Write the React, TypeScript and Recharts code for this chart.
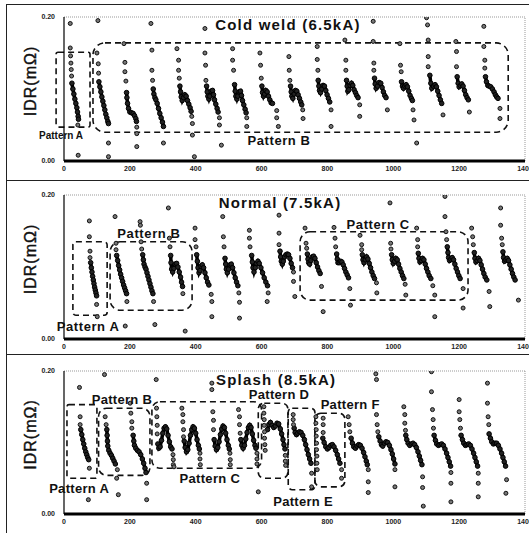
import React from 'react';
import { ComposedChart, Line, Scatter, XAxis, YAxis, ReferenceLine, ReferenceArea, ReferenceDot, Label } from 'recharts';

type Pt = [number, number];

const X_TICKS = [0, 200, 400, 600, 800, 1000, 1200, 1400];
const Y_TICKS = [0, 0.2];

// ---- Cold weld (6.5kA) ----
const coldStrokes: Pt[][] = [
  [[24, .108], [27, .100], [30, .093], [33, .086], [36, .080], [39, .074], [41, .068], [43, .062], [44, .058]],
  [[106, .110], [109, .103], [112, .096], [115, .089], [118, .083], [121, .077], [124, .071], [127, .065], [130, .060], [133, .055], [135, .052]],
  [[190, .095], [191, .088], [193, .080], [196, .073], [200, .068], [205, .067], [210, .066], [214, .063], [218, .059], [220, .055]],
  [[271, .100], [273, .093], [276, .088], [279, .085], [283, .080], [287, .073], [291, .066], [295, .060], [299, .054], [302, .048]],
  [[352, .104], [354, .096], [356, .089], [359, .084], [363, .088], [367, .092], [371, .090], [375, .084], [379, .079], [383, .074], [386, .069]],
  [[433, .104], [435, .096], [437, .090], [440, .086], [443, .090], [447, .097], [451, .098], [454, .092], [457, .085], [461, .079], [465, .073], [468, .068]],
  [[518, .106], [520, .097], [522, .090], [525, .086], [528, .090], [532, .096], [536, .097], [539, .091], [542, .084], [546, .078], [550, .072], [553, .067]],
  [[601, .104], [603, .095], [606, .090], [609, .093], [613, .098], [617, .096], [621, .090], [625, .085], [629, .081], [633, .080]],
  [[688, .104], [690, .096], [692, .090], [695, .087], [699, .093], [703, .098], [707, .097], [711, .092], [715, .087], [719, .082], [722, .078]],
  [[772, .112], [774, .104], [776, .098], [779, .095], [783, .100], [787, .105], [791, .104], [795, .098], [799, .092], [803, .087], [807, .082]],
  [[858, .112], [860, .104], [862, .097], [865, .099], [869, .105], [873, .108], [877, .105], [881, .099], [885, .095], [889, .091], [893, .088]],
  [[943, .115], [945, .107], [948, .101], [952, .104], [957, .109], [962, .108], [966, .102], [970, .096], [974, .091], [978, .088]],
  [[1025, .110], [1028, .104], [1031, .101], [1035, .104], [1039, .106], [1043, .103], [1047, .097], [1051, .091], [1055, .087], [1058, .084]],
  [[1111, .119], [1114, .108], [1117, .101], [1122, .104], [1127, .106], [1131, .103], [1135, .097], [1139, .091], [1143, .085], [1147, .080]],
  [[1194, .117], [1197, .108], [1200, .103], [1204, .105], [1208, .107], [1212, .104], [1216, .098], [1220, .092], [1224, .088], [1228, .085]],
  [[1280, .117], [1283, .110], [1287, .105], [1291, .104], [1296, .103], [1301, .100], [1306, .096], [1310, .092], [1314, .089], [1318, .087]],
];
const coldDots: Pt[] = [
  [19, .191], [19, .157], [20, .146], [21, .136], [22, .127], [23, .118], [42, .050], [43, .008],
  [103, .195], [100, .150], [104, .135], [105, .122], [135, .025], [135, .006],
  [182, .163], [185, .137], [185, .124], [188, .111], [221, .047], [221, .038], [221, .020],
  [264, .191], [267, .154], [267, .126], [269, .112], [302, .025],
  [343, .156], [348, .140], [348, .126], [350, .115], [388, .062], [390, .052], [390, .036], [396, .006],
  [428, .184], [428, .150], [430, .133], [431, .112], [472, .060], [472, .050], [478, .022],
  [512, .156], [512, .140], [515, .126], [555, .060], [555, .048],
  [595, .150], [597, .133], [599, .115], [646, .070], [646, .060], [651, .048],
  [683, .145], [684, .126], [686, .112], [725, .071], [726, .059],
  [769, .159], [769, .141], [771, .126], [811, .071], [811, .048],
  [853, .168], [856, .140], [856, .126], [898, .078], [898, .062],
  [939, .194], [939, .166], [941, .136], [941, .126], [982, .071],
  [1020, .163], [1022, .133], [1024, .124], [1060, .071], [1063, .057], [1071, .025],
  [1101, .199], [1104, .189], [1106, .168], [1106, .145], [1106, .131], [1151, .064],
  [1190, .166], [1192, .152], [1192, .131], [1231, .068],
  [1275, .187], [1275, .159], [1278, .140], [1278, .129], [1324, .073], [1324, .059],
];

// ---- Normal (7.5kA) ----
const normalStrokes: Pt[][] = [
  [[81, .106], [83, .099], [85, .093], [87, .087], [89, .082], [91, .077], [93, .072], [95, .068], [97, .064], [99, .060]],
  [[160, .116], [163, .109], [166, .102], [169, .096], [172, .090], [175, .085], [178, .080], [181, .075], [184, .071], [187, .067], [190, .063]],
  [[239, .117], [241, .110], [243, .104], [246, .100], [249, .097], [252, .092], [255, .087], [258, .082], [261, .077], [264, .072], [267, .067], [270, .063]],
  [[324, .116], [325, .106], [327, .097], [330, .093], [334, .098], [338, .104], [342, .105], [346, .100], [350, .093], [354, .086], [357, .079], [360, .073]],
  [[403, .117], [405, .108], [407, .099], [410, .092], [413, .095], [416, .101], [420, .103], [424, .099], [428, .092], [432, .085], [436, .079], [440, .075]],
  [[489, .112], [491, .104], [493, .097], [496, .092], [500, .097], [504, .103], [508, .104], [512, .099], [516, .092], [520, .085], [524, .079], [528, .074]],
  [[570, .116], [572, .107], [574, .099], [577, .093], [581, .099], [585, .105], [589, .108], [593, .105], [598, .099], [603, .092], [608, .085], [613, .079], [618, .074]],
  [[656, .122], [658, .114], [660, .108], [663, .104], [666, .108], [670, .114], [674, .117], [678, .118], [682, .117], [686, .112], [690, .105], [694, .099]],
  [[739, .118], [741, .111], [743, .106], [746, .104], [750, .109], [754, .114], [758, .115], [762, .112], [766, .106], [770, .100], [774, .095], [778, .091]],
  [[828, .118], [830, .111], [832, .106], [836, .106], [840, .108], [844, .107], [848, .103], [852, .098], [856, .093], [860, .089], [864, .085]],
  [[906, .117], [908, .110], [911, .106], [915, .110], [919, .114], [923, .111], [927, .105], [931, .099], [935, .093], [939, .088], [943, .084]],
  [[995, .117], [997, .110], [1000, .105], [1004, .108], [1008, .112], [1012, .110], [1016, .104], [1020, .098], [1024, .093], [1028, .088], [1032, .084]],
  [[1076, .119], [1078, .112], [1081, .107], [1085, .109], [1089, .112], [1093, .110], [1097, .104], [1101, .098], [1105, .093], [1109, .088], [1114, .084]],
  [[1164, .128], [1166, .120], [1168, .113], [1171, .109], [1175, .111], [1179, .113], [1183, .110], [1187, .104], [1191, .098], [1195, .093], [1199, .088], [1203, .084]],
  [[1246, .120], [1248, .112], [1251, .107], [1255, .109], [1259, .112], [1263, .109], [1267, .103], [1271, .097], [1275, .091], [1279, .086], [1284, .082]],
  [[1333, .121], [1335, .113], [1338, .108], [1342, .110], [1346, .112], [1350, .109], [1354, .103], [1358, .097], [1362, .091], [1366, .086], [1370, .082]],
];
const normalDots: Pt[] = [
  [77, .164], [77, .142], [79, .122], [79, .113], [99, .048], [101, .031],
  [155, .170], [158, .133], [158, .124], [191, .052], [186, .018],
  [231, .163], [232, .158], [234, .135], [236, .125], [272, .052], [276, .020],
  [317, .182], [320, .140], [322, .128], [361, .063], [368, .011],
  [398, .154], [398, .138], [401, .128], [447, .062], [449, .052], [449, .031],
  [482, .170], [484, .142], [486, .128], [531, .064], [533, .051], [533, .029],
  [563, .151], [563, .140], [565, .128], [620, .064], [617, .052],
  [653, .172], [653, .147], [653, .131], [697, .093], [697, .080], [701, .059],
  [732, .154], [735, .133], [737, .126], [782, .073], [787, .038],
  [820, .155], [823, .140], [825, .128], [868, .070], [870, .047],
  [899, .144], [904, .131], [904, .124], [949, .078], [950, .064],
  [990, .189], [992, .133], [993, .125], [1036, .076], [1038, .061],
  [1071, .154], [1074, .138], [1074, .128], [1120, .074], [1126, .061], [1126, .031],
  [1157, .198], [1157, .170], [1160, .149], [1162, .138], [1212, .070], [1212, .043],
  [1238, .154], [1241, .142], [1243, .131], [1291, .066], [1293, .045],
  [1326, .182], [1326, .158], [1329, .140], [1331, .131], [1380, .054],
];

// ---- Splash (8.5kA) ----
const splashStrokes: Pt[][] = [
  [[51, .118], [54, .111], [57, .104], [60, .098], [63, .092], [66, .087], [69, .083], [72, .079], [75, .076]],
  [[130, .118], [131, .110], [132, .102], [133, .095], [136, .089], [140, .085], [144, .082], [148, .078], [152, .074], [156, .070]],
  [[210, .110], [212, .102], [214, .096], [218, .092], [223, .089], [228, .087], [233, .083], [238, .077], [242, .071], [246, .064], [249, .058]],
  [[285, .098], [288, .092], [292, .094], [296, .103], [300, .113], [304, .120], [308, .122], [312, .119], [316, .110], [320, .101], [324, .094], [328, .091]],
  [[365, .102], [368, .093], [372, .087], [376, .090], [380, .099], [384, .110], [388, .118], [392, .122], [396, .120], [400, .113], [404, .104], [408, .096], [411, .091]],
  [[456, .104], [459, .095], [463, .090], [467, .093], [471, .101], [475, .111], [479, .119], [483, .123], [487, .121], [491, .113], [495, .104], [499, .096], [502, .091]],
  [[537, .104], [540, .096], [544, .092], [548, .096], [552, .105], [556, .114], [560, .121], [564, .124], [568, .121], [572, .112], [576, .103], [580, .096], [583, .092]],
  [[618, .118], [622, .125], [627, .128], [632, .124], [637, .121], [642, .123], [647, .127], [652, .126], [657, .119], [661, .112], [665, .104], [668, .097], [671, .091]],
  [[699, .120], [702, .114], [706, .111], [710, .113], [715, .115], [720, .114], [725, .110], [730, .104], [734, .097], [738, .090], [742, .083], [746, .077], [750, .071]],
  [[786, .106], [790, .100], [795, .094], [800, .091], [805, .093], [810, .096], [815, .097], [820, .094], [825, .089], [830, .083], [834, .077], [838, .071]],
  [[872, .106], [876, .099], [880, .094], [885, .092], [890, .095], [895, .097], [900, .096], [905, .092], [910, .086], [914, .080], [918, .074], [921, .069]],
  [[956, .108], [960, .102], [964, .097], [968, .095], [973, .099], [978, .101], [983, .100], [988, .096], [993, .090], [997, .084], [1001, .077], [1005, .070]],
  [[1038, .110], [1041, .104], [1045, .099], [1050, .096], [1055, .098], [1060, .099], [1065, .097], [1070, .093], [1075, .087], [1079, .081], [1083, .075], [1087, .069]],
  [[1124, .110], [1128, .103], [1132, .098], [1137, .096], [1142, .097], [1147, .098], [1152, .096], [1157, .091], [1162, .085], [1166, .079], [1170, .073], [1174, .067]],
  [[1206, .110], [1210, .104], [1214, .099], [1219, .096], [1224, .097], [1229, .098], [1234, .096], [1239, .091], [1244, .085], [1248, .079], [1252, .073], [1256, .067]],
  [[1291, .112], [1295, .106], [1299, .101], [1304, .098], [1309, .099], [1314, .099], [1319, .096], [1324, .091], [1329, .085], [1333, .079], [1337, .073], [1341, .067]],
];
const splashDots: Pt[] = [
  [47, .177], [49, .136], [49, .125], [77, .064], [74, .020],
  [123, .195], [125, .136], [128, .125], [162, .062], [160, .050], [165, .027],
  [201, .155], [203, .141], [206, .129], [206, .120], [251, .043], [251, .020],
  [280, .188], [281, .148], [282, .136], [283, .124], [283, .112], [331, .083], [332, .076], [332, .069], [334, .066],
  [358, .148], [361, .139], [361, .129], [363, .118], [363, .108], [413, .085], [413, .077], [414, .069],
  [449, .183], [449, .174], [452, .143], [454, .131], [454, .118], [504, .085], [505, .076], [505, .069],
  [530, .146], [533, .136], [533, .125], [535, .113], [586, .085], [586, .077], [586, .070], [590, .031],
  [607, .150], [607, .141], [608, .132], [608, .124], [609, .115], [609, .106], [610, .097], [611, .089], [672, .082], [672, .074], [673, .068],
  [696, .139], [696, .132], [697, .125], [752, .057], [752, .038],
  [765, .136], [765, .127], [766, .118], [766, .109], [767, .099], [767, .090], [768, .081], [768, .071], [769, .062], [787, .134], [787, .125], [787, .114], [843, .062], [843, .050],
  [863, .136], [866, .125], [868, .115], [924, .062], [924, .045], [924, .030],
  [947, .196], [949, .188], [949, .139], [951, .125], [953, .115], [1005, .062], [1005, .038],
  [1032, .150], [1035, .139], [1035, .127], [1037, .117], [1089, .052], [1089, .037], [1091, .011],
  [1116, .199], [1116, .171], [1119, .146], [1121, .132], [1122, .120], [1175, .058], [1175, .043], [1175, .017],
  [1200, .160], [1200, .143], [1202, .132], [1204, .120], [1258, .057], [1258, .043], [1258, .024],
  [1286, .183], [1286, .155], [1288, .136], [1290, .125], [1344, .048], [1342, .029],
];

const FONT = '"Liberation Sans", Arial, sans-serif';

interface Box { x1: number; x2: number; y1: number; y2: number; r: number }
interface Note { x: number; y: number; text: string; size: number; ls?: number }

interface PanelDef {
  top: number;
  height: number;
  marginTop: number;
  strokes: Pt[][];
  dots: Pt[];
  boxes: Box[];
  notes: Note[];
}

const panels: PanelDef[] = [
  {
    top: 5, height: 176, marginTop: 12, strokes: coldStrokes, dots: coldDots,
    boxes: [
      { x1: -24, x2: 79, y1: 0.047, y2: 0.151, r: 2 },
      { x1: 88, x2: 1349, y1: 0.040, y2: 0.164, r: 12 },
    ],
    notes: [
      { x: 680, y: 0.189, text: 'Cold weld (6.5kA)', size: 15, ls: 1.2 },
      { x: -9, y: 0.036, text: 'Pattern A', size: 10 },
      { x: 653, y: 0.029, text: 'Pattern B', size: 13, ls: 0.6 },
    ],
  },
  {
    top: 181, height: 178, marginTop: 14, strokes: normalStrokes, dots: normalDots,
    boxes: [
      { x1: 27, x2: 131, y1: 0.033, y2: 0.135, r: 3 },
      { x1: 140, x2: 389, y1: 0.040, y2: 0.135, r: 10 },
      { x1: 717, x2: 1227, y1: 0.054, y2: 0.149, r: 10 },
    ],
    notes: [
      { x: 656, y: 0.190, text: 'Normal (7.5kA)', size: 15, ls: 1.2 },
      { x: 73, y: 0.017, text: 'Pattern A', size: 13, ls: 0.6 },
      { x: 258, y: 0.146, text: 'Pattern B', size: 13, ls: 0.6 },
      { x: 954, y: 0.159, text: 'Pattern C', size: 13, ls: 0.6 },
    ],
  },
  {
    top: 355, height: 179, marginTop: 16, strokes: splashStrokes, dots: splashDots,
    boxes: [
      { x1: 9, x2: 100, y1: 0.050, y2: 0.153, r: 2 },
      { x1: 105, x2: 261, y1: 0.054, y2: 0.148, r: 8 },
      { x1: 267, x2: 600, y1: 0.064, y2: 0.157, r: 8 },
      { x1: 590, x2: 680, y1: 0.050, y2: 0.155, r: 6 },
      { x1: 681, x2: 762, y1: 0.034, y2: 0.148, r: 4 },
      { x1: 762, x2: 853, y1: 0.038, y2: 0.141, r: 6 },
    ],
    notes: [
      { x: 644, y: 0.188, text: 'Splash (8.5kA)', size: 15, ls: 1.2 },
      { x: 46, y: 0.036, text: 'Pattern A', size: 13, ls: 0.3 },
      { x: 176, y: 0.160, text: 'Pattern B', size: 13, ls: 0.3 },
      { x: 443, y: 0.050, text: 'Pattern C', size: 13, ls: 0.3 },
      { x: 653, y: 0.167, text: 'Pattern D', size: 13, ls: 0.3 },
      { x: 726, y: 0.017, text: 'Pattern E', size: 13, ls: 0.3 },
      { x: 869, y: 0.153, text: 'Pattern F', size: 13, ls: 0.3 },
    ],
  },
];

// flatten cycles into one line series, null rows break the line between cycles
const toLineRows = (cycles: Pt[][]) => {
  const rows: { x: number; y: number | null }[] = [];
  cycles.forEach((c) => {
    c.forEach(([x, y]) => rows.push({ x, y }));
    rows.push({ x: c[c.length - 1][0], y: null });
  });
  return rows;
};

const DotShape = (p: any) => (
  <circle cx={p.cx} cy={p.cy} r={2} fill="#777" stroke="#111" strokeWidth={1} />
);

const YLabel = (props: any) => {
  const vb = props.viewBox || { x: 0, y: 0, width: 64, height: 144 };
  const cx = 30;
  const cy = vb.y + vb.height / 2 - 8;
  return (
    <text x={cx} y={cy} transform={`rotate(-90, ${cx}, ${cy})`} textAnchor="middle" dominantBaseline="central"
      fontSize={16} fontWeight="normal" fontFamily={FONT} fill="#111" letterSpacing={1} stroke="#111" strokeWidth={0.4}>
      IDR(mΩ)
    </text>
  );
};

const tickStyle = { fontSize: 7, fontWeight: 'bold', fill: '#222', fontFamily: FONT };

const Panel: React.FC<{ def: PanelDef }> = ({ def }) => {
  const rows = toLineRows(def.strokes);
  const dotRows = def.dots.map(([x, y]) => ({ x, y }));
  return (
    <div style={{ position: 'absolute', left: 0, top: def.top }}>
      <ComposedChart width={529} height={def.height} data={rows}
        margin={{ top: def.marginTop, right: 4, bottom: 0, left: 0 }}>
        <XAxis dataKey="x" type="number" domain={[0, 1400]} ticks={X_TICKS} interval={0}
          tickLine={false} tickSize={3} tickMargin={2} height={20} allowDataOverflow
          axisLine={{ stroke: '#000', strokeWidth: 3 }} tick={tickStyle} />
        <YAxis dataKey="y" type="number" domain={[0, 0.2]} ticks={Y_TICKS} width={64}
          tickLine={false} tickSize={4} tickMargin={5} allowDataOverflow
          tickFormatter={(v: number) => v.toFixed(2)}
          axisLine={{ stroke: '#000', strokeWidth: 1.2 }} tick={tickStyle}>
          <Label content={YLabel} />
        </YAxis>
        <ReferenceLine y={0.2} stroke="#999" strokeDasharray="1 1" />
        <ReferenceLine x={1400} stroke="#999" strokeDasharray="1 1" />
        {def.boxes.map((b, i) => (
          <ReferenceArea key={`b${i}`} x1={b.x1} x2={b.x2} y1={b.y1} y2={b.y2} ifOverflow="visible"
            shape={(p: any) => (
              <rect x={p.x} y={p.y} width={p.width} height={p.height} rx={b.r} ry={b.r}
                fill="none" stroke="#111" strokeWidth={1.6} strokeDasharray="6 4" />
            )} />
        ))}
        <Line dataKey="y" type="linear" stroke="#000" strokeWidth={3.5} connectNulls={false}
          dot={{ r: 2.3, fill: '#222', stroke: '#000', strokeWidth: 1 }} isAnimationActive={false} />
        <Scatter data={dotRows} dataKey="y" shape={DotShape} isAnimationActive={false} />
        {def.notes.map((n, i) => (
          <ReferenceDot key={`n${i}`} x={n.x} y={n.y} r={0} ifOverflow="visible"
            shape={(p: any) => (
              <text x={p.cx} y={p.cy} textAnchor="middle" dominantBaseline="central" fontSize={n.size}
                fontWeight="bold" fontFamily={FONT} fill="#111" letterSpacing={n.ls || 0}>
                {n.text}
              </text>
            )} />
        ))}
      </ComposedChart>
    </div>
  );
};

const frames = [
  { top: 4, height: 177 },
  { top: 180, height: 175 },
  { top: 354, height: 182 },
];

export default function App() {
  return (
    <div style={{ position: 'absolute', left: 0, top: 0, width: 529, height: 533, overflow: 'hidden', background: '#fff' }}>
      {frames.map((f, i) => (
        <div key={i} style={{ position: 'absolute', left: 6, top: f.top, width: 530, height: f.height, border: '1.5px solid #222', boxSizing: 'border-box' }} />
      ))}
      {panels.map((p, i) => <Panel key={i} def={p} />)}
    </div>
  );
}
